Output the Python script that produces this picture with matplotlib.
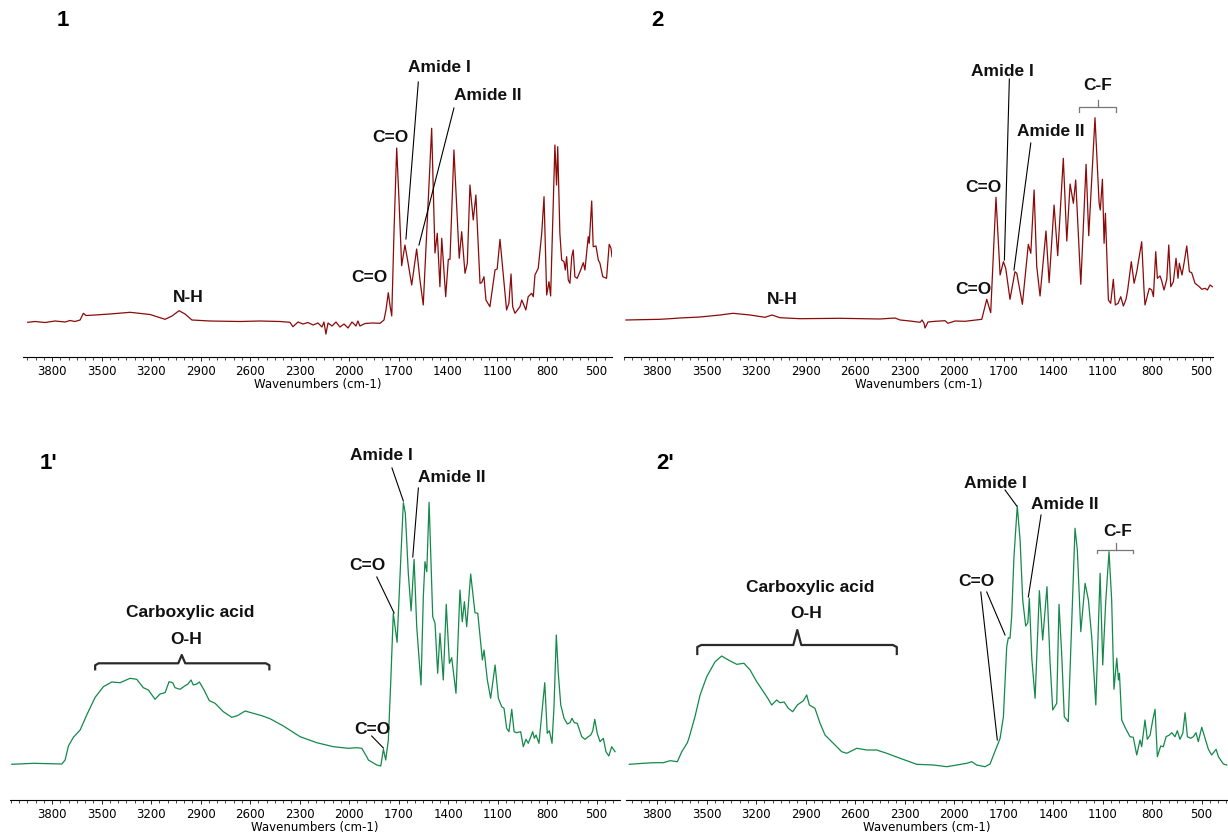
import matplotlib
matplotlib.use("Agg")
import matplotlib.pyplot as plt
from matplotlib.ticker import MultipleLocator, FixedLocator

# ---------------- data (wavenumber cm-1, absorbance a.u.) ----------------
spec_1 = [(3947,34.7),(3903,35.5),(3842,34.5),(3782,36),(3721,35),(3691,36.5),(3661,35.5),(3630,37),
 (3610,43.7),(3594,41.5),(3539,42),(3449,43),(3327,44.7),(3206,42.5),(3115,37.7),(3073,41),(3030,46.3),
 (2994,43),(2952,37),(2843,36),(2661,35.5),(2540,36),(2418,35.5),(2358,34.7),(2340,30.3),(2309,35),
 (2279,33),(2249,34.5),(2218,32),(2188,34),(2164,30),(2152,35),(2140,23),(2127,34),(2103,31),(2079,35),
 (2055,30),(2030,33),(2006,29),(1982,35),(1958,31),(1946,36),(1934,31),(1903,33.5),(1861,34),(1812,33.7),
 (1788,37),(1776,47),(1762,64.3),(1752,52),(1741,41),(1727,127),(1711,209),(1697,157),(1681,91.3),
 (1661,112),(1643,95),(1620,72),(1590,108),(1570,77),(1550,52),(1499,228.7),(1479,104),(1465,123.7),
 (1449,70.3),(1438,118.7),(1414,60.3),(1398,97.7),(1388,97.7),(1364,207),(1332,98.7),(1317,125.3),
 (1297,83.7),(1283,93.7),(1267,172),(1247,137),(1231,162),(1206,73.7),(1196,74.3),(1182,80.3),(1170,57),
 (1146,50.3),(1115,87),(1102,88),(1085,117.7),(1066,83.7),(1045,47),(1031,53.7),(1018,83),(1008,50.3),
 (994,43.7),(964,50.3),(953,57),(940,52),(928,47),(914,60.3),(893,63.7),(883,60.3),(873,82),(853,88.7),
 (832,123.7),(818,160.3),(802,62),(788,75.3),(778,61),(752,212),(742,172),(735,210.3),(722,123.7),
 (711,97),(697,95.3),(689,87),(681,100.3),(671,77),(661,73.7),(650,100.3),(641,107),(631,80.3),
 (617,78.7),(600,85.3),(580,94.3),(570,87),(556,110.3),(550,120.3),(544,113.7),(529,156),(520,110.3),
 (503,111),(489,97),(479,93.7),(462,80.3),(439,78.7),(423,112.7),(412,108.7),(406,100.3)]

spec_2 = [(3988,37),(3903,37.3),(3782,37.7),(3721,38.3),(3661,39),(3539,40),(3418,42),(3339,43.7),
 (3236,42),(3146,39.7),(3103,42),(3055,39.3),(2933,38.3),(2691,38.7),(2449,38),(2358,39),(2327,37),
 (2267,36),(2206,34.7),(2194,37),(2182,33.7),(2176,29),(2158,35),(2115,35.7),(2055,36.3),(2037,33.7),
 (1994,36),(1934,35.7),(1832,37.7),(1802,57.7),(1778,44.3),(1746,159.7),(1721,82),(1701,95.3),
 (1687,88.7),(1661,57.7),(1631,85.3),(1620,83.7),(1586,52.7),(1550,112.7),(1535,103.7),(1515,167),
 (1499,90.3),(1479,61),(1443,126),(1424,74.3),(1394,152),(1372,101.3),(1338,198.7),(1317,116),
 (1297,173),(1277,153.7),(1263,177),(1232,72.7),(1200,192.7),(1184,121.3),(1146,239.3),(1121,153.7),
 (1114,147),(1101,177.7),(1091,113.7),(1083,143.7),(1065,57),(1051,53.7),(1035,77.7),(1023,52),
 (1006,53.7),(990,60.3),(974,51),(958,57.7),(948,67),(926,95.3),(909,73.7),(893,85.3),(863,115.3),
 (849,67),(843,52),(817,68.7),(802,67),(792,60.3),(778,105.3),(768,78.7),(752,81),(742,76.3),(728,67),
 (711,77.7),(699,112),(687,70.3),(671,75.3),(655,98.7),(643,78.7),(635,93.7),(619,82),(606,94.3),
 (590,111),(574,85.3),(560,84.3),(540,73.7),(514,70.3),(499,67.7),(479,68.7),(465,67),(449,72),(435,70.3)]

spec_1p = [(4044,35.7),(3913,36.7),(3812,36.3),(3741,36),(3721,40),(3701,54),(3671,62.7),(3630,70),
 (3590,85),(3539,102.7),(3489,113.3),(3438,118),(3388,117.3),(3327,121.7),(3287,120.7),(3247,112.3),
 (3216,110),(3176,100.7),(3146,106),(3115,107.3),(3091,118.3),(3069,117.3),(3055,112.3),(3024,110.7),
 (2994,114.3),(2978,115.7),(2958,120),(2944,115),(2923,116),(2907,118),(2879,110),(2847,99.3),
 (2812,96.7),(2762,88.3),(2711,82.7),(2677,84.3),(2630,89),(2580,86.7),(2529,84.3),(2479,81.3),
 (2398,74),(2297,63.3),(2196,57.3),(2095,53.3),(2004,51.7),(1954,52.3),(1923,51.7),(1893,43.3),
 (1883,40),(1832,35),(1808,34),(1792,50.7),(1778,40),(1762,60),(1747,120),(1732,186.7),(1709,157.7),
 (1687,240),(1671,297.3),(1659,286.7),(1641,226.7),(1624,189),(1606,240.7),(1590,173.3),(1564,115),
 (1550,203.3),(1540,238.3),(1529,228.3),(1515,297.7),(1493,183.3),(1479,176.7),(1463,126.7),
 (1449,166.7),(1429,120),(1411,195.7),(1392,136.7),(1378,142.3),(1352,106.7),(1328,210),(1314,178.3),
 (1301,198.3),(1287,173.3),(1263,226),(1237,187.3),(1220,186.7),(1192,140),(1182,150),(1162,120),
 (1142,101.7),(1115,135),(1095,101.7),(1075,93.3),(1061,91.7),(1045,71.7),(1031,68.3),(1014,90.7),
 (1000,68.3),(984,67.3),(960,68.3),(944,53.3),(928,60.7),(914,56.7),(887,68.3),(877,61.7),(867,65),
 (849,56.7),(832,86.7),(814,117.3),(799,66.7),(786,69.3),(770,56.7),(758,93.3),(744,165),(732,126.7),
 (717,95),(697,81.7),(677,76),(661,77.3),(649,81.7),(635,77.3),(617,76.7),(590,63.3),(570,60.7),
 (550,63.3),(535,65),(523,69.3),(511,80.7),(496,66.7),(479,58.3),(459,61.7),(443,48.3),(426,44),
 (408,53.3),(388,48.3)]

spec_2p = [(3968,35.7),(3883,36.7),(3822,37.3),(3762,37.3),(3721,39.3),(3677,38.3),(3650,48.3),
 (3616,57.3),(3604,63.3),(3570,83.3),(3539,105),(3499,123.3),(3448,138.3),(3408,144),(3368,140),
 (3317,135.7),(3273,136.7),(3236,130),(3196,118.3),(3155,108.3),(3129,101.7),(3105,95),(3075,100),
 (3055,97.3),(3030,98),(3004,91.7),(2978,88.3),(2950,95),(2913,99.3),(2893,105),(2877,95),(2843,91.7),
 (2812,76.7),(2782,65),(2732,56.7),(2681,48.3),(2650,46.7),(2590,51.7),(2529,50),(2469,50),(2408,46.7),
 (2327,41.7),(2226,35.7),(2125,35),(2044,33.3),(1984,35),(1923,36.7),(1893,38.3),(1863,35),(1812,33.3),
 (1782,36),(1741,53.3),(1721,61.7),(1701,83.3),(1681,153.3),(1671,162.3),(1661,161.7),(1651,183.3),
 (1637,243.3),(1617,294),(1600,260),(1584,200),(1566,174),(1553,177.3),(1544,201.7),(1529,141.7),
 (1509,101.7),(1483,209.3),(1463,160),(1437,213.3),(1418,136.7),(1402,90),(1378,96.7),(1364,195.7),
 (1348,146.7),(1332,83.3),(1308,78.3),(1287,176.7),(1267,271.7),(1253,250),(1232,168.3),(1206,216.7),
 (1186,200),(1166,163.3),(1141,95),(1115,226.7),(1099,135),(1081,198.3),(1061,248.3),(1045,200),
 (1031,110.7),(1014,141.7),(1004,120),(998,126.7),(984,80),(964,72.7),(934,63.3),(914,62.7),(893,45),
 (873,60),(863,53.3),(843,80),(829,60.7),(812,65),(796,80),(782,90.7),(768,43.3),(748,54),(732,53.3),
 (715,63.3),(695,65),(681,67.3),(661,63.3),(647,69.3),(631,60.7),(614,66.7),(600,87.3),(586,63.3),
 (566,61.7),(550,63.3),(534,67.3),(520,58.3),(499,72.7),(479,61.7),(459,50.7),(439,45),(412,50.7),
 (398,43.3),(368,36),(348,35)]

tick_values = [3800, 3500, 3200, 2900, 2600, 2300, 2000, 1700, 1400, 1100, 800, 500]
panel_labels = ["1", "2", "1'", "2'"]
x_label = "Wavenumbers (cm-1)"

RED = "#8b0a0a"
GREEN = "#13894a"
BOLD = dict(fontsize=12.5, fontweight="bold", family=["Liberation Sans", "DejaVu Sans"],
            ha="center", va="center", color="#111111")

W, H = 1228, 838
fig = plt.figure(figsize=(W / 100, H / 100), dpi=100)


def add_ax(l, r, top, bottom):
    return fig.add_axes([l / W, 1 - bottom / H, (r - l) / W, (bottom - top) / H])


def style(ax, xlim, ylim):
    ax.set_xlim(*xlim)
    ax.set_ylim(*ylim)
    for s in ["top", "right", "left"]:
        ax.spines[s].set_visible(False)
    ax.spines["bottom"].set_linewidth(0.8)
    ax.set_yticks([])
    ax.xaxis.set_major_locator(FixedLocator(tick_values))
    ax.xaxis.set_minor_locator(MultipleLocator(50))
    ax.tick_params(axis="x", which="major", length=3, width=0.6, labelsize=8.5, pad=3)
    ax.tick_params(axis="x", which="minor", length=2, width=0.5)
    ax.set_xlabel(x_label, fontsize=8.5, labelpad=0)
    ax.patch.set_alpha(0)


def plot_spec(ax, spec, color):
    xs = [p[0] for p in spec]
    ys = [p[1] for p in spec]
    ax.plot(xs, ys, color=color, lw=0.9)


def leader(ax, p1, p2):
    ax.plot([p1[0], p2[0]], [p1[1], p2[1]], color="k", lw=0.8, clip_on=False)


def brace(ax, left, right, mid, y_end, y_h, y_top):
    d = (left - right) * 0.02
    xs = [left, left + 0 * d, left - d, mid + d, mid, mid - d, right + d, right, right]
    ys = [y_end, y_h - 2, y_h, y_h, y_top, y_h, y_h, y_h - 2, y_end]
    ax.plot(xs, ys, color="#2a2a2a", lw=1.6, clip_on=False, solid_joinstyle="round")


def cf_bracket(ax, left, right, mid, y_end, y_h, y_top):
    ax.plot([left, left, right, right], [y_end, y_h, y_h, y_end], color="#777777", lw=0.9, clip_on=False)
    ax.plot([mid, mid], [y_h, y_top], color="#777777", lw=0.9, clip_on=False)


# ---------------- panel 1 ----------------
ax1 = add_ax(23, 612, 0, 357)
style(ax1, (3976, 406), (0, 357))
plot_spec(ax1, spec_1, RED)
ax1.text(2976, 60, "N-H", **BOLD)
ax1.text(1879, 79, "C=O", **BOLD)
ax1.text(1752, 220, "C=O", **BOLD)
ax1.text(1455, 290, "Amide I", **BOLD)
leader(ax1, (1580, 275), (1655, 118))
ax1.text(1158, 261, "Amide II", **BOLD)
leader(ax1, (1364, 249), (1576, 112))

# ---------------- panel 2 ----------------
ax2 = add_ax(624, 1213, 0, 357)
style(ax2, (4000, 431), (0, 357))
plot_spec(ax2, spec_2, RED)
ax2.text(3042, 58, "N-H", **BOLD)
ax2.text(1885, 68, "C=O", **BOLD)
ax2.text(1824, 170, "C=O", **BOLD)
ax2.text(1709, 286, "Amide I", **BOLD)
leader(ax2, (1665, 278), (1695, 97))
ax2.text(1412, 226, "Amide II", **BOLD)
leader(ax2, (1535, 214), (1637, 87))
ax2.text(1128, 271, "C-F", **BOLD)
cf_bracket(ax2, 1241, 1018, 1129, 245, 250, 257)

# ---------------- panel 1' ----------------
ax3 = add_ax(10, 620, 420, 800)
style(ax3, (4055, 358), (0, 380))
plot_spec(ax3, spec_1p, GREEN)
ax3.text(2964, 187, "Carboxylic acid", **BOLD)
ax3.text(2988, 160, "O-H", **BOLD)
brace(ax3, 3539, 2483, 3014, 130.7, 136.7, 145)
ax3.text(1806, 345, "Amide I", **BOLD)
leader(ax3, (1740, 332), (1671, 299))
ax3.text(1376, 323, "Amide II", **BOLD)
leader(ax3, (1580, 312), (1614, 243))
ax3.text(1891, 234, "C=O", **BOLD)
leader(ax3, (1832, 223), (1727, 187))
ax3.text(1861, 71, "C=O", **BOLD)
leader(ax3, (1863, 64), (1792, 52))

# ---------------- panel 2' ----------------
ax4 = add_ax(626, 1228, 420, 800)
style(ax4, (3988, 340), (0, 380))
plot_spec(ax4, spec_2p, GREEN)
ax4.text(2873, 212.5, "Carboxylic acid", **BOLD)
ax4.text(2897, 186, "O-H", **BOLD)
brace(ax4, 3556, 2347, 2950, 146, 155, 170)
ax4.text(1867, 218, "C=O", **BOLD)
leader(ax4, (1838, 208), (1738, 60))
leader(ax4, (1802, 208), (1691, 165))
ax4.text(1752, 317, "Amide I", **BOLD)
leader(ax4, (1691, 310), (1620, 294))
ax4.text(1328, 296, "Amide II", **BOLD)
leader(ax4, (1473, 285), (1550, 203))
ax4.text(1006, 269, "C-F", **BOLD)
cf_bracket(ax4, 1132, 914, 1020, 246.7, 250, 256.7)

# panel numbers
for lab, (px, py) in zip(panel_labels, [(63, 20), (657, 20), (48, 463), (665, 463)]):
    fig.text(px / W, 1 - py / H, lab, fontsize=16, fontweight="bold",
             family=["Liberation Sans", "DejaVu Sans"], ha="center", va="center")

fig.savefig("out.png", dpi=100)
